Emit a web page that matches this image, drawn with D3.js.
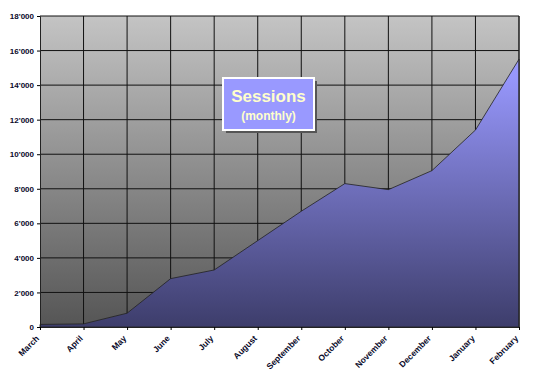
<!DOCTYPE html>
<html>
<head>
<meta charset="utf-8">
<script src="https://cdn.jsdelivr.net/npm/d3@7"></script>
<style>
  body { margin: 0; background: #fff; }
  svg { display: block; font-family: Arial, "Liberation Sans", sans-serif; }
</style>
</head>
<body>
<svg id="chart" width="550" height="377"></svg>
<script>
// months along the bottom
var months = ["March", "April", "May", "June", "July", "August", "September",
    "October", "November", "December", "January", "February"];
// sessions per month
var sessions = [150, 180, 800, 2800, 3300, 5000, 6700, 8300, 7950, 9050, 11400, 15500];
var yTicks = [0, 2000, 4000, 6000, 8000, 10000, 12000, 14000, 16000, 18000];

var margin = { top: 16, right: 31, bottom: 50, left: 40 };
var width = 550 - margin.left - margin.right,
    height = 377 - margin.top - margin.bottom;

var svg = d3.select("#chart");
var defs = svg.append("defs");

// plot background: light grey at top, dark grey at bottom
var bgGrad = defs.append("linearGradient")
    .attr("id", "bgGrad").attr("x1", 0).attr("y1", 0).attr("x2", 0).attr("y2", 1);
bgGrad.append("stop").attr("offset", "0%").attr("stop-color", "#c4c4c4");
bgGrad.append("stop").attr("offset", "100%").attr("stop-color", "#555555");

// area fill, gradient over the whole plot height
var areaGrad = defs.append("linearGradient")
    .attr("id", "areaGrad").attr("gradientUnits", "userSpaceOnUse")
    .attr("x1", 0).attr("y1", 0).attr("x2", 0).attr("y2", height);
areaGrad.append("stop").attr("offset", "0%").attr("stop-color", "#a0a0ff");
areaGrad.append("stop").attr("offset", "20%").attr("stop-color", "#9696fa");
areaGrad.append("stop").attr("offset", "100%").attr("stop-color", "#3d3d6b");

var g = svg.append("g")
    .attr("transform", "translate(" + margin.left + "," + margin.top + ")");

var x = d3.scalePoint()
    .domain(months)
    .range([0, width]);

var y = d3.scaleLinear()
    .domain([0, 18000])
    .range([height, 0]);

g.append("rect")
    .attr("width", width)
    .attr("height", height)
    .attr("fill", "url(#bgGrad)");

// grid
g.append("g").selectAll("line")
    .data(yTicks.slice(1))
    .enter().append("line")
    .attr("x1", 0).attr("x2", width)
    .attr("y1", d => y(d)).attr("y2", d => y(d))
    .style("stroke", "#111")
    .style("stroke-width", 1);

g.append("g").selectAll("line")
    .data(months.slice(1))
    .enter().append("line")
    .attr("x1", d => x(d)).attr("x2", d => x(d))
    .attr("y1", 0).attr("y2", height)
    .style("stroke", "#111")
    .style("stroke-width", 1);

// the area
var area = d3.area()
    .x((d, i) => x(months[i]))
    .y0(height)
    .y1(d => y(d));

g.append("path")
    .datum(sessions)
    .attr("d", area)
    .attr("fill", "url(#areaGrad)")
    .style("stroke", "#222")
    .style("stroke-width", 0.8);

// axes
var fmt = function (d) {
    return d3.format(",")(d).replace(/,/g, "'");
};

var yAxis = g.append("g")
    .call(d3.axisLeft(y).tickValues(yTicks).tickFormat(fmt).tickSize(3).tickPadding(3));
yAxis.select(".domain").style("stroke", "#222");
yAxis.selectAll("text")
    .style("font-size", "8px")
    .style("font-weight", "bold")
    .style("fill", "#0a0a2a");

var xAxis = g.append("g")
    .attr("transform", "translate(0," + height + ")")
    .call(d3.axisBottom(x).tickSize(3).tickPadding(4));
xAxis.select(".domain").style("stroke", "#222");
xAxis.selectAll("text")
    .style("font-size", "8.5px")
    .style("font-weight", "bold")
    .style("fill", "#0a0a2a")
    .style("text-anchor", "end")
    .attr("x", -9)
    .attr("y", 5)
    .attr("dy", "0.35em")
    .attr("transform", "rotate(-45)");

// right border of plot
g.append("line")
    .attr("x1", width).attr("x2", width)
    .attr("y1", 0).attr("y2", height)
    .style("stroke", "#222");

// title box
var tb = svg.append("g").attr("transform", "translate(223,78)");
tb.append("rect")
    .attr("x", 3).attr("y", 3)
    .attr("width", 91).attr("height", 52)
    .attr("fill", "#555");
tb.append("rect")
    .attr("width", 91).attr("height", 52)
    .attr("fill", "#9999ff")
    .style("stroke", "#fff")
    .style("stroke-width", 2);
tb.append("text")
    .attr("x", 45.5).attr("y", 24)
    .attr("text-anchor", "middle")
    .style("font-size", "17px")
    .style("font-weight", "bold")
    .style("fill", "#ffffcc")
    .text("Sessions");
tb.append("text")
    .attr("x", 45.5).attr("y", 42)
    .attr("text-anchor", "middle")
    .style("font-size", "12px")
    .style("font-weight", "bold")
    .style("fill", "#ffffcc")
    .text("(monthly)");
</script>
</body>
</html>
